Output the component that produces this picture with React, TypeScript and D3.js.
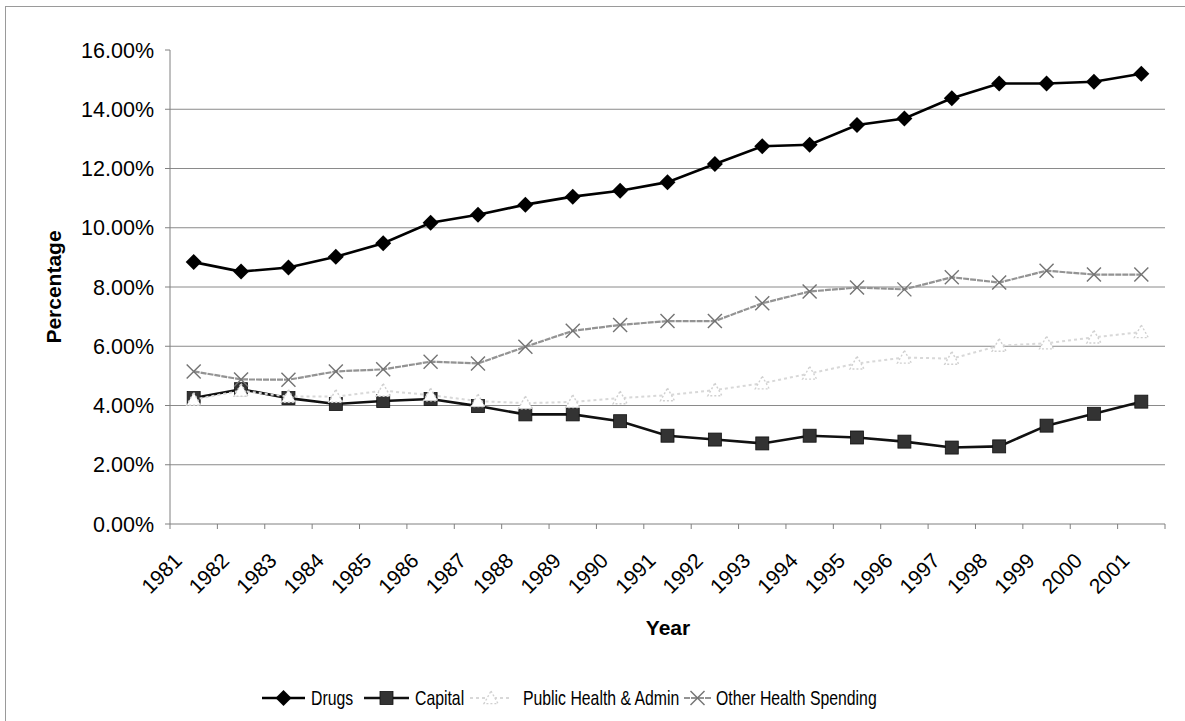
import React from "react";
import * as d3 from "d3";

// Health spending shares, 1981–2001 (percent of total)
const years = [1981, 1982, 1983, 1984, 1985, 1986, 1987, 1988, 1989, 1990, 1991, 1992, 1993, 1994, 1995, 1996, 1997, 1998, 1999, 2000, 2001];
const drugs = [8.84, 8.52, 8.66, 9.02, 9.48, 10.17, 10.44, 10.78, 11.05, 11.25, 11.54, 12.15, 12.75, 12.8, 13.47, 13.69, 14.37, 14.87, 14.87, 14.93, 15.2];
const capital = [4.25, 4.55, 4.25, 4.05, 4.15, 4.22, 3.98, 3.7, 3.7, 3.47, 2.98, 2.85, 2.72, 2.98, 2.92, 2.78, 2.58, 2.62, 3.32, 3.72, 4.13];
const publicHealth = [4.2, 4.5, 4.3, 4.3, 4.5, 4.35, 4.15, 4.08, 4.12, 4.25, 4.35, 4.52, 4.75, 5.08, 5.42, 5.62, 5.58, 6.02, 6.1, 6.3, 6.48];
const otherHealth = [5.15, 4.88, 4.87, 5.15, 5.22, 5.48, 5.42, 5.98, 6.52, 6.72, 6.85, 6.85, 7.45, 7.85, 7.98, 7.92, 8.33, 8.15, 8.55, 8.42, 8.42];
const yTicks = [0, 0.02, 0.04, 0.06, 0.08, 0.1, 0.12, 0.14, 0.16];
const seriesNames = ["Drugs", "Capital", "Public Health & Admin", "Other Health Spending"];

const W = 1185;
const H = 721;
const FONT = "Arial, 'Liberation Sans', Helvetica, sans-serif";
const left = 170, right = 1165, top = 50, bottom = 524;

type Marker = "diamond" | "square" | "triangle" | "cross";

interface Series {
  name: string;
  values: number[];
  stroke: string;
  width: number;
  dash?: string;
  marker: Marker;
}

const series: Series[] = [
  { name: seriesNames[0], values: drugs, stroke: "#000", width: 2.6, marker: "diamond" },
  { name: seriesNames[1], values: capital, stroke: "#111", width: 2.6, marker: "square" },
  { name: seriesNames[2], values: publicHealth, stroke: "#d8d8d8", width: 2, dash: "3,3", marker: "triangle" },
  { name: seriesNames[3], values: otherHealth, stroke: "#939393", width: 2.2, dash: "6,1", marker: "cross" },
];

function MarkerShape({ kind, x, y }: { kind: Marker; x: number; y: number }) {
  if (kind === "diamond") {
    const r = 8;
    return <path d={`M${x},${y - r}L${x + r},${y}L${x},${y + r}L${x - r},${y}Z`} fill="#000" />;
  }
  if (kind === "square") {
    const s = 13;
    return <rect x={x - s / 2} y={y - s / 2} width={s} height={s} fill="#333" stroke="#111" strokeWidth={0.8} />;
  }
  if (kind === "triangle") {
    const r = 7;
    return (
      <path
        d={`M${x},${y - r}L${x + r},${y + r * 0.8}L${x - r},${y + r * 0.8}Z`}
        fill="#fff"
        stroke="#d0d0d0"
        strokeWidth={1.4}
        strokeDasharray="2,2"
      />
    );
  }
  const r = 7;
  return (
    <g stroke="#737373" strokeWidth={1.4}>
      <line x1={x - r} y1={y - r} x2={x + r} y2={y + r} />
      <line x1={x - r} y1={y + r} x2={x + r} y2={y - r} />
    </g>
  );
}

export default function App() {
  const x = d3.scaleBand<number>().domain(years).range([left, right]);
  const y = d3.scaleLinear().domain([0, 0.16]).range([bottom, top]);
  const cx = (yr: number) => (x(yr) as number) + x.bandwidth() / 2;
  const fmt = d3.format(".2%");

  const lineGen = (vals: number[]) =>
    d3
      .line<number>()
      .x((_, i) => cx(years[i]))
      .y((v) => y(v / 100))(vals) as string;

  const boundaries = years.map((yr) => x(yr) as number).concat([right]);

  // legend layout
  const legendY = 698;
  const legendItems = [
    { s: series[0], x0: 262, x1: 305, tx: 311 },
    { s: series[1], x0: 364, x1: 409, tx: 415 },
    { s: series[2], x0: 470, x1: 512, tx: 523 },
    { s: series[3], x0: 684, x1: 711, tx: 716 },
  ];

  return (
    <svg
      width={W}
      height={H}
      style={{ position: "absolute", left: 0, top: 0, background: "#fff" }}
      fontFamily={FONT}
    >
      <rect x={0} y={0} width={W} height={H} fill="#fff" />
      <rect x={5.5} y={6.5} width={W + 20} height={H + 20} fill="none" stroke="#9a9a9a" strokeWidth={1} />

      {/* gridlines */}
      {yTicks.filter((t) => t > 0 && t < 0.16).map((t) => (
        <line key={t} x1={left} x2={right} y1={y(t)} y2={y(t)} stroke="#8a8a8a" strokeWidth={1} />
      ))}

      {/* axes */}
      <line x1={left} x2={left} y1={top} y2={bottom} stroke="#808080" strokeWidth={1} />
      <line x1={left} x2={right} y1={bottom} y2={bottom} stroke="#808080" strokeWidth={1} />
      {yTicks.map((t) => (
        <g key={t}>
          <line x1={left - 5} x2={left} y1={y(t)} y2={y(t)} stroke="#808080" />
          <text x={154} y={y(t)} dy="0.36em" textAnchor="end" fontSize={21.5} fill="#000">
            {fmt(t)}
          </text>
        </g>
      ))}
      {boundaries.map((b, i) => (
        <line key={i} x1={b} x2={b} y1={bottom} y2={bottom + 5} stroke="#808080" />
      ))}
      {years.map((yr) => (
        <text
          key={yr}
          transform={`translate(${cx(yr) - 10.5},${562}) rotate(-45)`}
          textAnchor="end"
          fontSize={21}
          fill="#000"
        >
          {yr}
        </text>
      ))}

      {/* axis titles */}
      <text x={668} y={627} dy="0.36em" textAnchor="middle" fontSize={21} fontWeight="bold">
        Year
      </text>
      <text transform={`translate(53,${(top + bottom) / 2}) rotate(-90)`} dy="0.36em" textAnchor="middle" fontSize={21} fontWeight="bold">
        Percentage
      </text>

      {/* series, drawn in order so later ones sit on top */}
      {series.map((s) => (
        <g key={s.name}>
          <path d={lineGen(s.values)} fill="none" stroke={s.stroke} strokeWidth={s.width} strokeDasharray={s.dash} />
          {s.values.map((v, i) => (
            <MarkerShape key={i} kind={s.marker} x={cx(years[i])} y={y(v / 100)} />
          ))}
        </g>
      ))}

      {/* legend */}
      {legendItems.map(({ s, x0, x1, tx }) => (
        <g key={s.name}>
          <line x1={x0} x2={x1} y1={legendY} y2={legendY} stroke={s.stroke} strokeWidth={s.width} strokeDasharray={s.dash} />
          <MarkerShape kind={s.marker} x={(x0 + x1) / 2} y={legendY} />
          <text transform={`translate(${tx},${legendY}) scale(0.79,1)`} dy="0.36em" fontSize={20} fill="#000">
            {s.name}
          </text>
        </g>
      ))}
    </svg>
  );
}
